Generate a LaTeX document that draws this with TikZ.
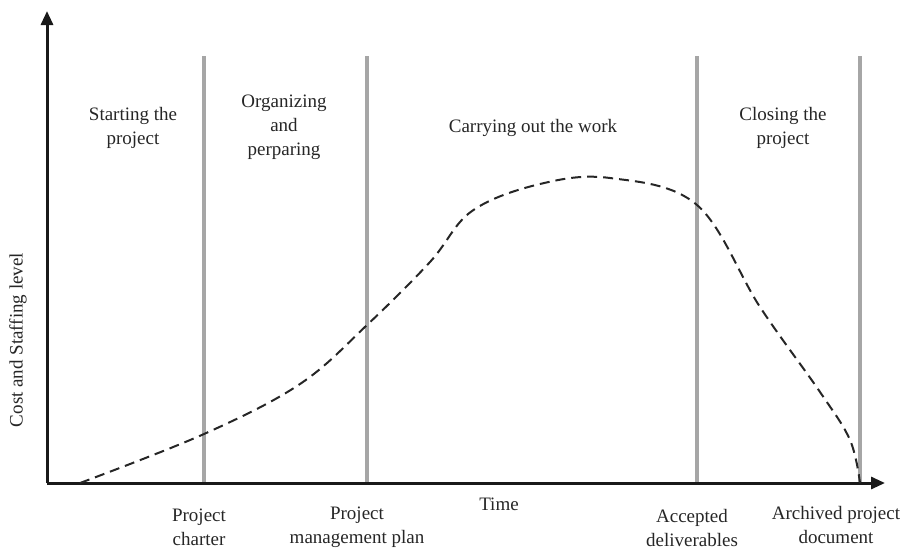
\documentclass[tikz,border=0pt]{standalone}
\usepackage{fontspec}
\setmainfont{Liberation Serif}
\usetikzlibrary{arrows.meta}

\begin{document}
\begin{tikzpicture}[x=1pt,y=-1pt]
\tikzstyle{every node}+=[inner sep=0pt,text=black!85,font=\fontsize{19}{24}\selectfont,align=center]
\tikzstyle{axis}=[line width=3pt,black!90,-{Triangle[length=14pt,width=12pt]}]
\tikzstyle{phase}=[line width=4pt,black!35]
\tikzstyle{effort}=[line width=2pt,black!85,dash pattern=on 10pt off 6pt]
\useasboundingbox (0,0) rectangle (905,550);
\coordinate (o) at (47,483);
\coordinate (ytip) at (47,11);
\coordinate (xtip) at (885,483);
% phase boundaries
\foreach \x/\n in {204/pa,367/pb,697/pc,860/pd}
{
\coordinate (\n top) at (\x,56);
\coordinate (\n) at (\x,483);
\draw [phase] (\n top) -- (\n);
}
\draw [axis] (o) -- (ytip);
\draw [axis] (o) -- (xtip);
% cost and staffing curve
\draw [effort] plot [smooth,tension=0.6] coordinates {(80,483) (204,434) (300,384) (367,325) (430,262) (472,211) (540,184) (610,178) (697,205) (760,307) (820,392) (850,440) (860,483)};
% phase names
\node (start) at (133,128) {Starting the\\project};
\node (organize) at (284,127) {Organizing\\and\\perparing};
\node (work) at (533,128) {Carrying out the work};
\node (close) at (783,128) {Closing the\\project};
% axis names
\node (cost) [rotate=90] at (18,340) {Cost and Staffing level};
\node (time) at (499,504) {Time};
% deliverables
\node (charter) at (199,527) {Project\\charter};
\node (plan) at (357,527) {Project\\management plan};
\node (accepted) at (692,528) {Accepted\\deliverables};
\node (archive) at (836,525) {Archived project\\document};
\end{tikzpicture}
\end{document}
